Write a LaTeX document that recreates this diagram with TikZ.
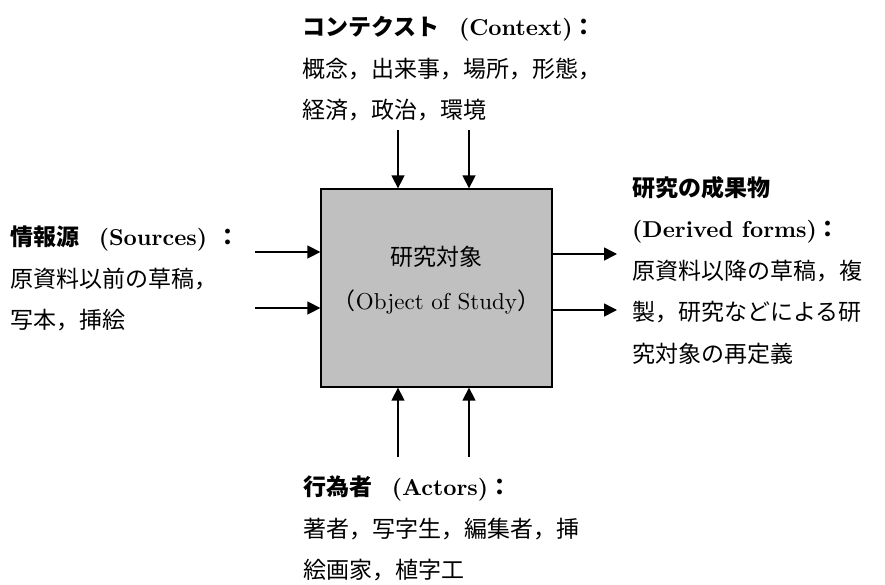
\documentclass[tikz,border=0pt]{standalone}
\usepackage{fontspec}
\setmainfont{lmroman10}[Extension=.otf, UprightFont=*-regular, BoldFont=*-bold, ItalicFont=*-italic, BoldItalicFont=*-bolditalic]
\newfontfamily\cjk{Noto Sans CJK JP}
\usetikzlibrary{arrows.meta}
\definecolor{boxgray}{HTML}{C0C0C0}
\begin{document}
\begin{tikzpicture}[x=1pt,y=-1pt,
  txt/.style={inner sep=0pt, anchor=north west, align=left, font=\fontsize{23}{41.5}\selectfont},
  arr/.style={line width=1.5pt, -{Triangle[length=13pt,width=13pt]}},
  objbox/.style={draw, line width=1.3pt, fill=boxgray, minimum width=231pt, minimum height=198pt, inner sep=0pt}]
\useasboundingbox (0,0) rectangle (885,584);
\node[objbox] (obj) at (436.5,288) {};
\node[inner sep=0pt, anchor=north, align=center, font=\fontsize{23}{44}\selectfont] (objtxt) at ([yshift=-58pt]obj.north) {{\cjk 研究対象}\\{\cjk （}Object of Study{\cjk ）}};
% free ends
\coordinate (t1) at (398,130);
\coordinate (t2) at (469,130);
\coordinate (b1) at (398,457);
\coordinate (b2) at (469,457);
\coordinate (l1) at (255,252);
\coordinate (l2) at (255,308);
\coordinate (r1) at (617,254);
\coordinate (r2) at (617,310);
\draw[arr] (t1) -- (t1 |- obj.north);
\draw[arr] (t2) -- (t2 |- obj.north);
\draw[arr] (b1) -- (b1 |- obj.south);
\draw[arr] (b2) -- (b2 |- obj.south);
\draw[arr] (l1) -- (l1 -| obj.west);
\draw[arr] (l2) -- (l2 -| obj.west);
\draw[arr] (r1 -| obj.east) -- (r1);
\draw[arr] (r2 -| obj.east) -- (r2);
% labels
\node[txt] (ctx) at (302,16) {{\bfseries\cjk コンテクスト}\hspace{0.85em}\textbf{(Context)}{\bfseries\cjk ：}\\
{\cjk 概念，出来事，場所，形態，}\\
{\cjk 経済，政治，環境}};
\node[txt] (src) at (10,226) {{\bfseries\cjk 情報源}\hspace{0.85em}\textbf{(Sources)}\hspace{0.4em}{\bfseries\cjk ：}\\
{\cjk 原資料以前の草稿，}\\
{\cjk 写本，挿絵}};
\node[txt] (der) at (632,176) {{\bfseries\cjk 研究の成果物}\\
\textbf{(Derived forms)}{\bfseries\cjk ：}\\
{\cjk 原資料以降の草稿，複}\\
{\cjk 製，研究などによる研}\\
{\cjk 究対象の再定義}};
\node[txt] (act) at (303,476) {{\bfseries\cjk 行為者}\hspace{0.85em}\textbf{(Actors)}{\bfseries\cjk ：}\\
{\cjk 著者，写字生，編集者，挿}\\
{\cjk 絵画家，植字工}};
\end{tikzpicture}
\end{document}
